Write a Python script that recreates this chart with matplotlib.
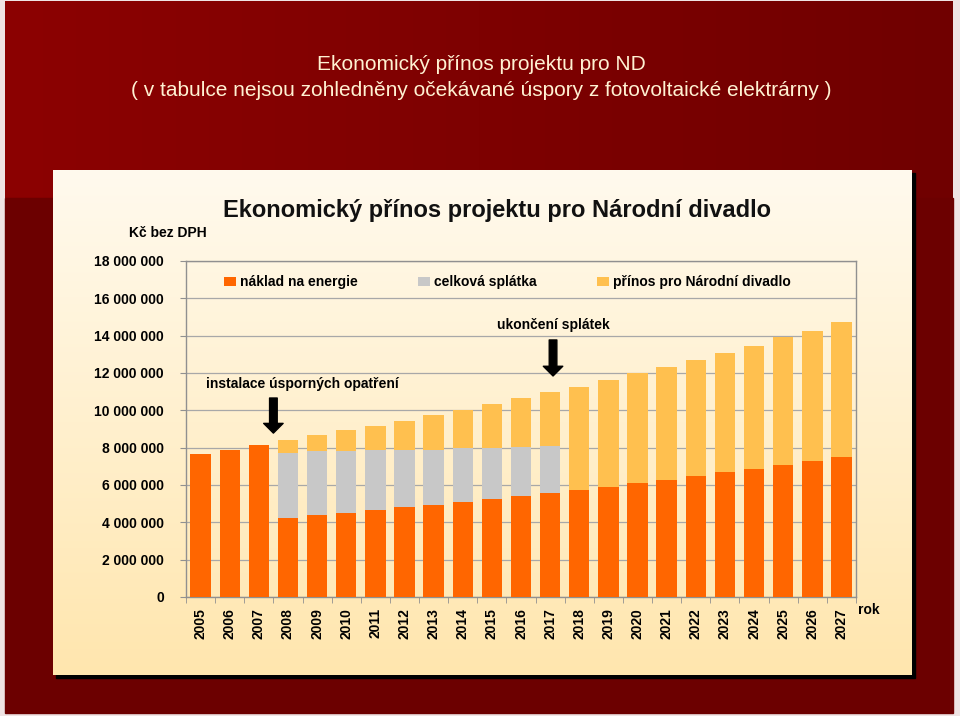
import numpy as np
import matplotlib
matplotlib.use("Agg")
import matplotlib.pyplot as plt
from matplotlib.ticker import FuncFormatter, FixedLocator

plt.rcParams["font.family"] = ["Liberation Sans", "DejaVu Sans"]

# data (mil. Kč)
roky = [str(r) for r in range(2005, 2028)]
naklad = [7.66, 7.87, 8.14, 4.23, 4.39, 4.52, 4.68, 4.80, 4.93, 5.10, 5.25, 5.41,
          5.57, 5.73, 5.91, 6.11, 6.28, 6.48, 6.68, 6.84, 7.09, 7.28, 7.50]
splatka = [0, 0, 0, 3.48, 3.43, 3.32, 3.19, 3.07, 2.94, 2.86, 2.75, 2.64,
           2.53, 0, 0, 0, 0, 0, 0, 0, 0, 0, 0]
prinos = [0, 0, 0, 0.70, 0.84, 1.09, 1.31, 1.58, 1.88, 2.04, 2.34, 2.61,
          2.88, 5.50, 5.71, 5.87, 6.04, 6.21, 6.39, 6.62, 6.84, 6.98, 7.25]
y_ticks = [0, 2, 4, 6, 8, 10, 12, 14, 16, 18]

naklad = np.array(naklad) * 1e6
splatka = np.array(splatka) * 1e6
prinos = np.array(prinos) * 1e6

W, H = 960, 716
fig = plt.figure(figsize=(W / 100, H / 100), dpi=100)
fig.patch.set_facecolor("#efe4e4")

# pozadí
bg = fig.add_axes([0, 0, 1, 1], zorder=-10)
bg.set_xlim(0, W)
bg.set_ylim(H, 0)
bg.axis("off")
horni = np.linspace(0, 1, 200)[None, :, None]
c1 = np.array([0x8c, 0x02, 0x02]) / 255
c2 = np.array([0x70, 0x00, 0x00]) / 255
bg.imshow(c1 + (c2 - c1) * horni, extent=(5, 953, 198, 1), aspect="auto", zorder=0)
bg.add_patch(plt.Rectangle((5, 198), 948, 515, color="#6c0000", zorder=0))
# panel se stínem
bg.add_patch(plt.Rectangle((56, 173), 859, 505, color="black", zorder=1))
svisle = np.linspace(0, 1, 200)[:, None, None]
p1 = np.array([0xff, 0xfa, 0xee]) / 255
p2 = np.array([0xff, 0xe6, 0xae]) / 255
bg.imshow(p1 + (p2 - p1) * svisle, extent=(53, 912, 675, 170), aspect="auto", zorder=2)

fig.text(481 / W, 1 - 65 / H, "Ekonomický přínos projektu pro ND", ha="center", va="center",
         fontsize=15, color="#fff1d2")
fig.text(481 / W, 1 - 90 / H,
         "( v tabulce nejsou zohledněny očekávané úspory z fotovoltaické elektrárny )",
         ha="center", va="center", fontsize=15, color="#fff1d2")

ax = fig.add_axes([186 / W, 1 - 597 / H, (856 - 186) / W, (597 - 261) / H])
ax.set_facecolor("none")
x = np.arange(len(roky))
sirka = 0.7
ax.bar(x, naklad, sirka, color="#ff6600", label="náklad na energie", zorder=3)
ax.bar(x, splatka, sirka, bottom=naklad, color="#c8c8c8", label="celková splátka", zorder=3)
ax.bar(x, prinos, sirka, bottom=naklad + splatka, color="#ffc04f",
       label="přínos pro Národní divadlo", zorder=3)

ax.set_xlim(-0.5, len(roky) - 0.5)
ax.set_ylim(0, 18e6)
ax.set_yticks([v * 1e6 for v in y_ticks])
ax.yaxis.set_major_formatter(FuncFormatter(lambda v, p: f"{int(v):,}".replace(",", " ")))
ax.grid(axis="y", color="#a8a8a8", linewidth=0.9, zorder=0)
ax.set_xticks(x)
ax.set_xticklabels(roky, rotation=90, fontweight="bold", fontsize=10)
ax.xaxis.set_minor_locator(FixedLocator(np.arange(-0.5, len(roky), 1)))
ax.tick_params(axis="x", which="major", length=0, pad=8)
ax.tick_params(axis="x", which="minor", length=4, color="#909090")
ax.tick_params(axis="y", length=4, color="#909090", pad=12, labelsize=10)
for lab in ax.get_yticklabels():
    lab.set_fontweight("bold")
for s in ax.spines.values():
    s.set_color("#909090")
    s.set_linewidth(1)

ax.legend(loc="center left", bbox_to_anchor=(0.046, 0.9375), ncol=3, frameon=False,
          prop={"weight": "bold", "size": 10}, borderpad=0,
          handlelength=0.85, handleheight=0.6, handletextpad=0.3, columnspacing=4.35)

# popisky a šipky
ax.text(12.1, 14.57e6, "ukončení splátek", ha="center", va="center",
        fontsize=10, fontweight="bold")
ax.annotate("", xy=(12.1, 11.84e6), xytext=(12.1, 13.77e6),
            arrowprops=dict(arrowstyle="simple,head_width=1.4,head_length=0.7,tail_width=0.55",
                            color="black", shrinkA=0, shrinkB=0))
ax.text(3.5, 11.41e6, "instalace úsporných opatření", ha="center", va="center",
        fontsize=10, fontweight="bold")
ax.annotate("", xy=(2.5, 8.78e6), xytext=(2.5, 10.66e6),
            arrowprops=dict(arrowstyle="simple,head_width=1.4,head_length=0.7,tail_width=0.55",
                            color="black", shrinkA=0, shrinkB=0))

fig.text(497 / W, 1 - 211 / H, "Ekonomický přínos projektu pro Národní divadlo",
         ha="center", va="center", fontsize=17, fontweight="bold", color="#111111")
fig.text(207 / W, 1 - 233 / H, "Kč bez DPH", ha="right", va="center",
         fontsize=10, fontweight="bold")
fig.text(858 / W, 1 - 610 / H, "rok", ha="left", va="center",
         fontsize=10, fontweight="bold")

fig.savefig("out.png", dpi=100, facecolor=fig.get_facecolor())
